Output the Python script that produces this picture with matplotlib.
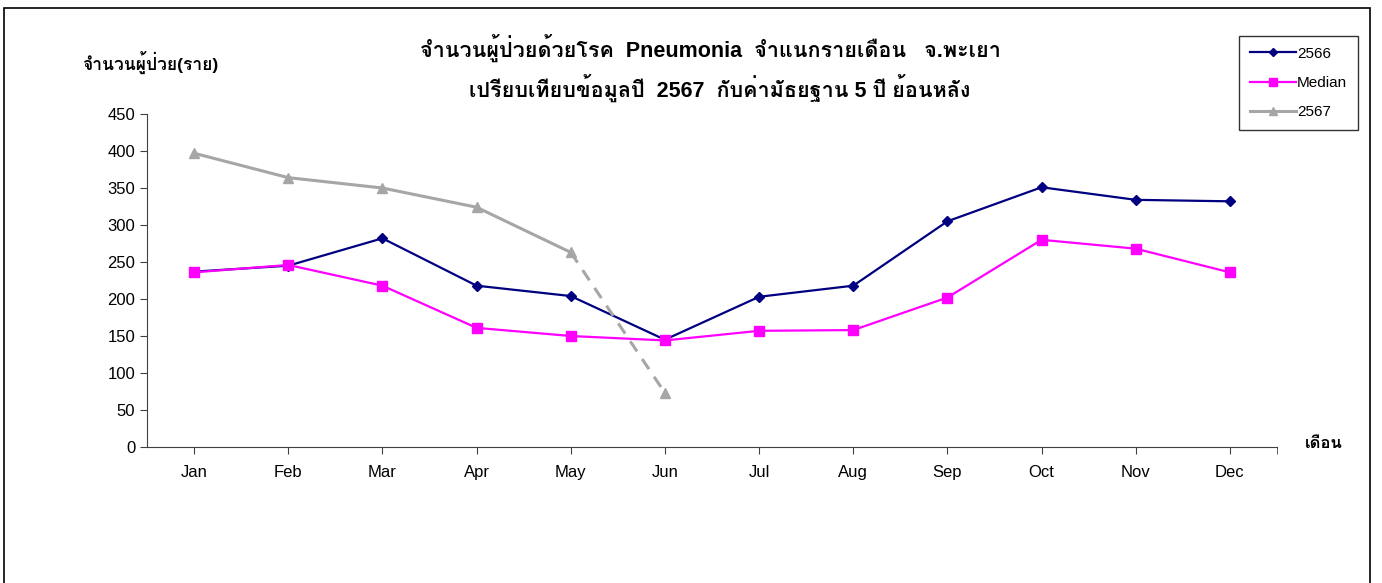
import matplotlib
matplotlib.use('Agg')
import matplotlib.pyplot as plt
from matplotlib import font_manager
from matplotlib.ft2font import FT2Font
from matplotlib.patches import Rectangle

months = ['Jan', 'Feb', 'Mar', 'Apr', 'May', 'Jun',
          'Jul', 'Aug', 'Sep', 'Oct', 'Nov', 'Dec']
y2566 = [237, 245, 282, 218, 204, 145, 203, 218, 305, 351, 334, 332]
median = [236, 246, 218, 161, 150, 144, 157, 158, 202, 280, 268, 236]
y2567 = [397, 364, 350, 324, 263, 73]

title1 = 'จำนวนผู้ป่วยด้วยโรค  Pneumonia  จำแนกรายเดือน   จ.พะเยา'
title2 = 'เปรียบเทียบข้อมูลปี  2567  กับค่ามัธยฐาน 5 ปี ย้อนหลัง'
ylabel = 'จำนวนผู้ป่วย(ราย)'
xlabel = 'เดือน'


# look for an installed font that has Thai letters
def find_thai_font():
    for f in font_manager.fontManager.ttflist:
        try:
            cmap = FT2Font(f.fname).get_charmap()
        except Exception:
            continue
        if 0x0E08 in cmap and 0x0E33 in cmap:
            return f.name
    return None


thai = find_thai_font()
fams = ['Liberation Sans', 'DejaVu Sans']
if thai:
    fams = ['Liberation Sans', thai, 'DejaVu Sans']
plt.rcParams['font.family'] = fams

fig = plt.figure(figsize=(13.82, 5.83), dpi=100)
fig.patches.append(Rectangle((0.003, -0.01), 0.988, 0.996, transform=fig.transFigure,
                             fill=False, edgecolor='black', linewidth=1.2))

ax = fig.add_axes([147 / 1382, 1 - 447 / 583, (1277 - 147) / 1382, (447 - 114) / 583])
x = list(range(len(months)))

ax.plot(x, y2566, color='#000080', marker='D', markersize=5.5, linewidth=1.6, label='2566')
ax.plot(x, median, color='#FF00FF', marker='s', markersize=7, linewidth=1.6, label='Median')
ax.plot(x[:5], y2567[:5], color='#A6A6A6', marker='^', markersize=7, linewidth=2.2, label='2567')
ax.plot(x[4:6], y2567[4:6], color='#A6A6A6', linewidth=2.2, linestyle=(0, (4, 3)))
ax.plot(x[5], y2567[5], color='#A6A6A6', marker='^', markersize=7, linestyle='none')

ax.set_xlim(-0.5, 11.5)
ax.set_ylim(0, 450)
ax.set_yticks(range(0, 451, 50))
ax.set_xticks(x)
ax.set_xticklabels(months)
ax.set_xticks([11.5], minor=True)
ax.tick_params(axis='x', which='major', length=5, pad=8, labelsize=12, color='#404040')
ax.tick_params(axis='x', which='minor', length=5, color='#404040')
ax.tick_params(axis='y', length=5, labelsize=12, color='#404040')
ax.spines['top'].set_visible(False)
ax.spines['right'].set_visible(False)
ax.spines['left'].set_color('#404040')
ax.spines['bottom'].set_color('#404040')

fig.text(710 / 1382, 1 - 48 / 583, title1, ha='center', va='center', fontsize=15.5, fontweight='bold')
fig.text(720 / 1382, 1 - 88 / 583, title2, ha='center', va='center', fontsize=15.5, fontweight='bold')
fig.text(82 / 1382, 1 - 62 / 583, ylabel, ha='left', va='center', fontsize=12.5, fontweight='bold')
fig.text(1305 / 1382, 1 - 444 / 583, xlabel, ha='left', va='center', fontsize=12, fontweight='bold')

leg = ax.legend(loc='upper left', bbox_to_anchor=(1239 / 1382, 1 - 36 / 583),
                bbox_transform=fig.transFigure, borderaxespad=0, fontsize=11, frameon=True,
                fancybox=False, edgecolor='black', handlelength=3.0, labelspacing=1.0,
                borderpad=0.7, handletextpad=0.1, markerscale=0.8)
leg.get_frame().set_linewidth(1.0)

fig.savefig('out.png', dpi=100)
